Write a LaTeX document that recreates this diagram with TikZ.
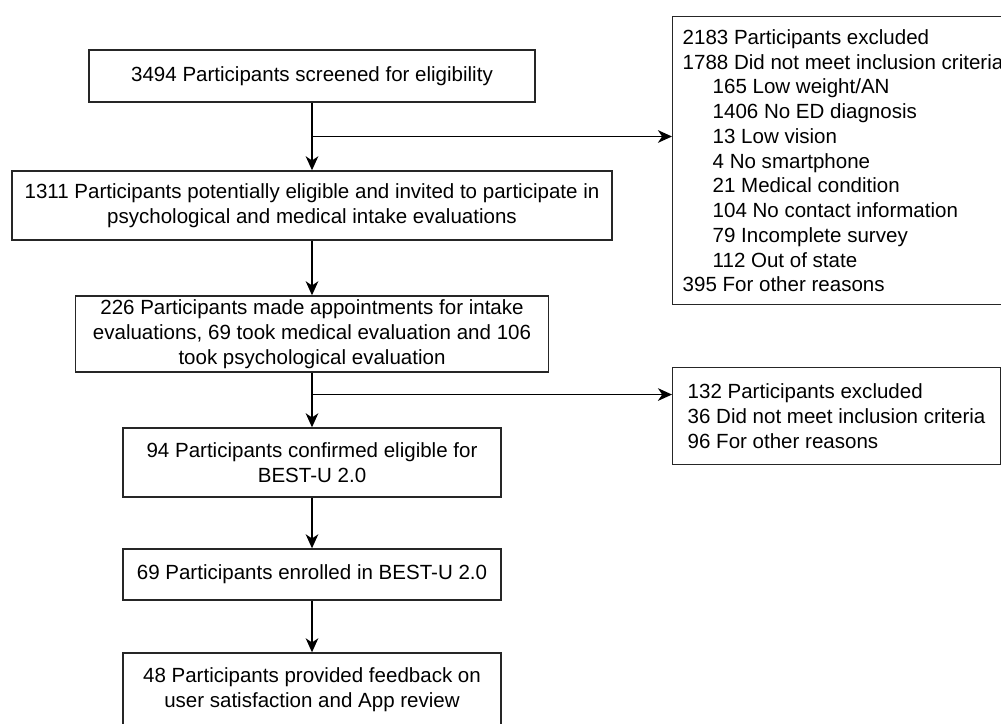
\documentclass[tikz,border=0pt]{standalone}
\usepackage{fontspec}
\setmainfont{Liberation Sans}
\usetikzlibrary{arrows.meta, calc}
\tikzstyle{process} = [rectangle, minimum width=9.45cm, minimum height=1.725cm, text centered, align=center, draw=black!85, line width=1pt, inner sep=2pt, font=\fontsize{14.6pt}{17.7pt}\selectfont]
\tikzstyle{exclude} = [rectangle, anchor=north west, align=left, draw=black!85, line width=1pt, inner xsep=0.25cm, font=\fontsize{14.6pt}{17.6pt}\selectfont]
\tikzstyle{arrow} = [line width=1pt, -{Stealth[length=10pt, width=9pt, inset=3pt]}]

\begin{document}
\begin{tikzpicture}[node distance=3.2125cm]
\path[use as bounding box, clip] (0,0) rectangle (25.025,-18.1);

% Nodes
\node (screen) [process, minimum width=11.15cm, minimum height=1.3cm] at (7.8,-1.9) {3494 Participants screened for eligibility};
\node (invite) [process, minimum width=15cm, node distance=3.2375cm, below of=screen] {1311 Participants potentially eligible and invited to participate in\\psychological and medical intake evaluations};
\node (appoint) [process, minimum width=11.825cm, minimum height=1.9cm, below of=invite] {226 Participants made appointments for intake\\evaluations, 69 took medical evaluation and 106\\took psychological evaluation};
\node (confirm) [process, below of=appoint] {94 Participants confirmed eligible for\\BEST-U 2.0};
\node (enrol) [process, minimum height=1.275cm, node distance=2.8cm, below of=confirm] {69 Participants enrolled in BEST-U 2.0};
\node (feedback) [process, minimum height=1.85cm, node distance=2.8875cm, below of=enrol] {48 Participants provided feedback on\\user satisfaction and App review};

\node (excl1) [exclude, inner xsep=0.25cm, minimum height=7.2cm] at (16.8,-0.4) {2183 Participants excluded\\1788 Did not meet inclusion criteria\\\hspace*{0.75cm}165 Low weight/AN\\\hspace*{0.75cm}1406 No ED diagnosis\\\hspace*{0.75cm}13 Low vision\\\hspace*{0.75cm}4 No smartphone\\\hspace*{0.75cm}21 Medical condition\\\hspace*{0.75cm}104 No contact information\\\hspace*{0.75cm}79 Incomplete survey\\\hspace*{0.75cm}112 Out of state\\395 For other reasons};
\node (excl2) [exclude, inner xsep=0.375cm, minimum height=2.425cm] at (16.8,-9.175) {132 Participants excluded\\36 Did not meet inclusion criteria\\96 For other reasons};

\coordinate (split1) at ($(screen.south)!0.5!(invite.north)$);
\coordinate (split2) at ($(appoint.south)!0.4!(confirm.north)$);

% Connections
\draw [arrow] (screen) -- (invite);
\draw [arrow] (split1) -- (split1 -| excl1.west);
\draw [arrow] (invite) -- (appoint);
\draw [arrow] (appoint) -- (confirm);
\draw [arrow] (split2) -- (split2 -| excl2.west);
\draw [arrow] (confirm) -- (enrol);
\draw [arrow] (enrol) -- (feedback);

\end{tikzpicture}
\end{document}
